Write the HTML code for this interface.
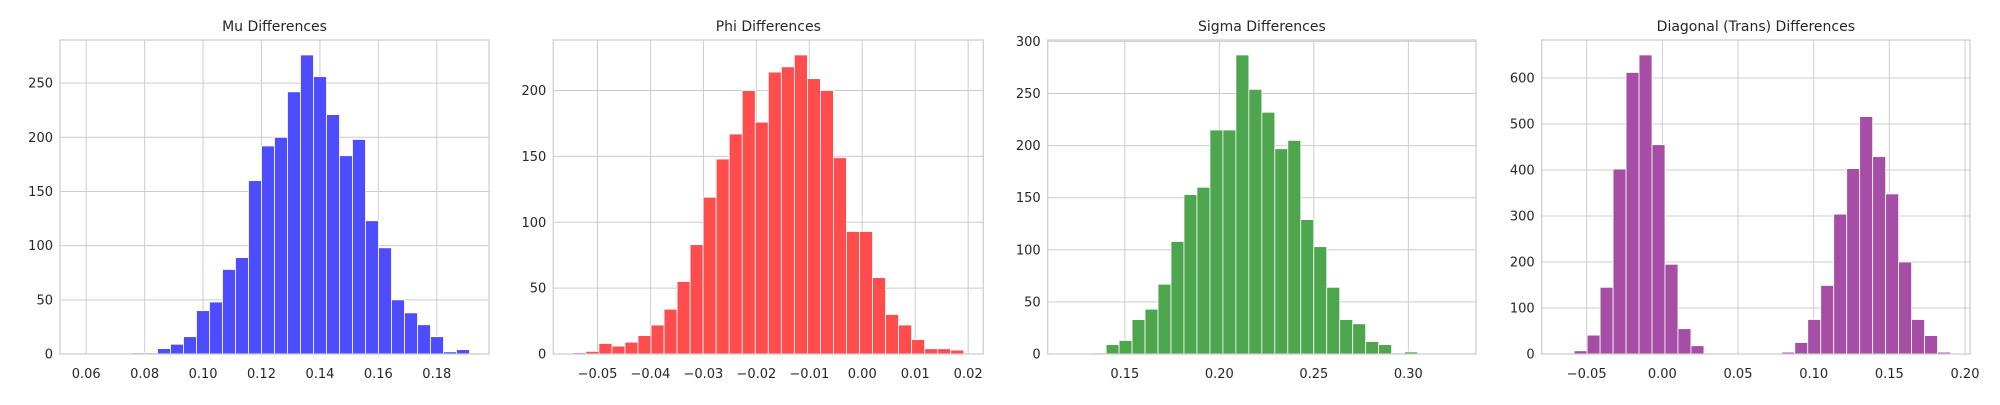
<!DOCTYPE html>
<html><head><meta charset="utf-8"><style>
html,body{margin:0;padding:0;background:#fff;}
svg text{font-family:"DejaVu Sans","Liberation Sans",sans-serif;fill:#262626;}
</style></head><body>
<svg id="fig" width="2000" height="400" viewBox="0 0 2000 400" xmlns="http://www.w3.org/2000/svg"></svg>
<script>
const muCounts=[0,0,0,0,1,1,5,9,16,40,48,78,89,160,192,200,242,276,256,221,183,198,123,98,50,38,27,16,2,4];
const muRange=[0.0577,0.1912];
const muXTicks=[0.06,0.08,0.10,0.12,0.14,0.16,0.18];
const muXLabels=["0.06","0.08","0.10","0.12","0.14","0.16","0.18"];
const muYTicks=[0,50,100,150,200,250];

const phiCounts=[1,2,8,6,9,14,22,34,55,83,119,148,167,200,176,214,218,227,209,200,149,93,93,58,30,22,11,4,4,3];
const phiRange=[-0.05466,0.01917];
const phiXTicks=[-0.05,-0.04,-0.03,-0.02,-0.01,0.00,0.01,0.02];
const phiXLabels=["\u22120.05","\u22120.04","\u22120.03","\u22120.02","\u22120.01","0.00","0.01","0.02"];
const phiYTicks=[0,50,100,150,200];

const sigmaCounts=[0,0,1,9,13,33,43,67,108,153,160,215,215,287,254,232,197,205,129,103,64,33,29,12,9,1,2,0,0,0];
const sigmaRange=[0.11947,0.3255];
const sigmaXTicks=[0.15,0.20,0.25,0.30];
const sigmaXLabels=["0.15","0.20","0.25","0.30"];
const sigmaYTicks=[0,50,100,150,200,250,300];

const diagCounts=[0,7,41,145,402,612,650,455,195,55,18,0,0,0,0,0,1,4,25,75,149,304,403,516,429,348,200,75,40,4];
const diagRange=[-0.06687,0.19044];
const diagXTicks=[-0.05,0.00,0.05,0.10,0.15,0.20];
const diagXLabels=["\u22120.05","0.00","0.05","0.10","0.15","0.20"];
const diagYTicks=[0,100,200,300,400,500,600];

const panels=[
 {name:"mu",title:"Mu Differences",counts:muCounts,range:muRange,xt:muXTicks,xl:muXLabels,yt:muYTicks,color:"#4d4dff",left:60,right:489},
 {name:"phi",title:"Phi Differences",counts:phiCounts,range:phiRange,xt:phiXTicks,xl:phiXLabels,yt:phiYTicks,color:"#ff4d4d",left:553.3,right:983.3},
 {name:"sigma",title:"Sigma Differences",counts:sigmaCounts,range:sigmaRange,xt:sigmaXTicks,xl:sigmaXLabels,yt:sigmaYTicks,color:"#4da64d",left:1047.7,right:1476},
 {name:"diagonal",title:"Diagonal (Trans) Differences",counts:diagCounts,range:diagRange,xt:diagXTicks,xl:diagXLabels,yt:diagYTicks,color:"#a64da6",left:1541.7,right:1970}
];
const NS="http://www.w3.org/2000/svg";
const svg=document.getElementById('fig');
function mk(tag,attrs,parent){const e=document.createElementNS(NS,tag);for(const k in attrs)e.setAttribute(k,attrs[k]);parent.appendChild(e);return e;}
const TOP=40,BOT=354;
panels.forEach(p=>{
 const g=mk('g',{},svg);
 
 
 const span=p.range[1]-p.range[0];
 const x0=p.range[0]-0.05*span,x1=p.range[1]+0.05*span;
 const ymax=1.05*Math.max(...p.counts);
 const X=v=>p.left+(v-x0)/(x1-x0)*(p.right-p.left);
 const Y=v=>BOT-v/ymax*(BOT-TOP);
 p.xt.forEach((t,i)=>{
  const l=mk('line',{x1:X(t),x2:X(t),y1:TOP,y2:BOT,stroke:'#cccccc','stroke-width':1},g);
  
  
  const tx=mk('text',{x:X(t),y:378,'font-size':13,'text-anchor':'middle'},g);
  tx.textContent=p.xl[i];
  
  
 });
 p.yt.forEach(t=>{
  const l=mk('line',{x1:p.left,x2:p.right,y1:Y(t),y2:Y(t),stroke:'#cccccc','stroke-width':1},g);
  
  
  const tx=mk('text',{x:p.left-7,y:Y(t)+4.5,'font-size':13,'text-anchor':'end'},g);
  tx.textContent=String(t);
  
  
 });
 const bw=span/p.counts.length;
 p.counts.forEach((c,i)=>{
  if(c<=0)return;
  const a=X(p.range[0]+i*bw),b=X(p.range[0]+(i+1)*bw);
  const r=mk('rect',{x:a,y:Y(c),width:b-a,height:BOT-Y(c),fill:p.color,stroke:'#ffffff','stroke-width':0.8},g);
  
  
 });
 const fr=mk('rect',{x:p.left,y:TOP,width:p.right-p.left,height:BOT-TOP,fill:'none',stroke:'#cccccc','stroke-width':1.25},g);
 
 
 const ti=mk('text',{x:(p.left+p.right)/2,y:31,'font-size':14,'text-anchor':'middle'},g);
 ti.textContent=p.title;
 
 
});
</script>
</body></html>
